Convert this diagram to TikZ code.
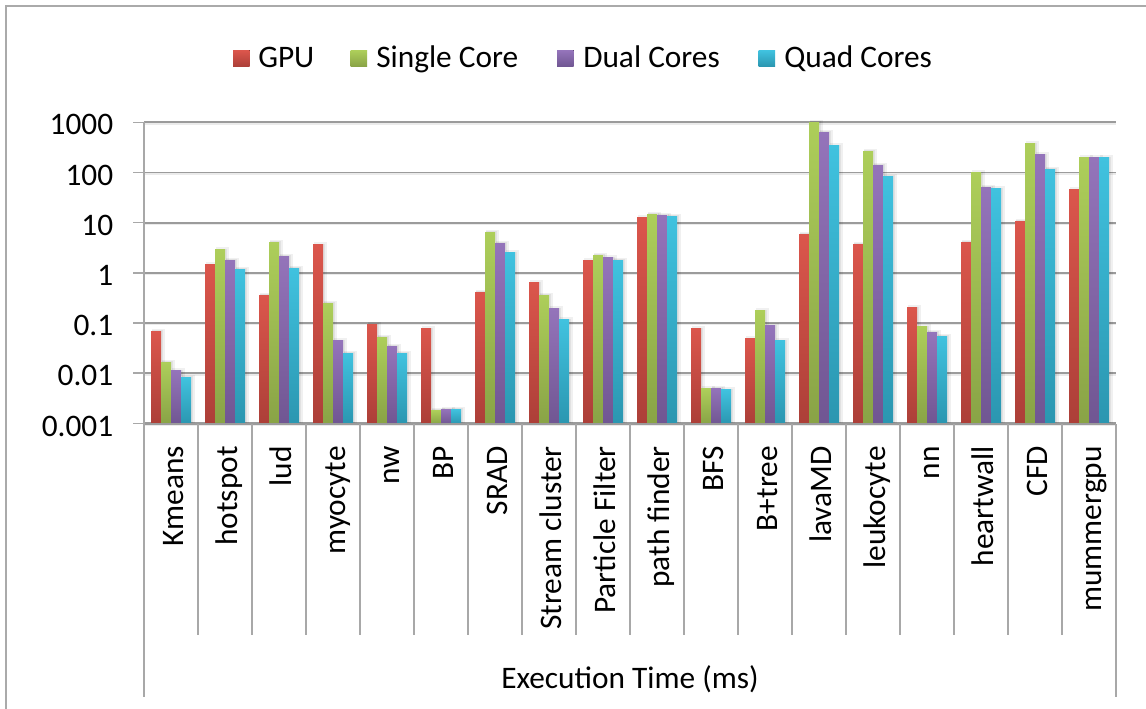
\documentclass[tikz,border=0pt]{standalone}
\usepackage{fontspec}
\setmainfont{Carlito}
\definecolor{gpuT}{RGB}{219,86,76}
\definecolor{gpuB}{RGB}{172,63,56}
\definecolor{sglT}{RGB}{173,206,90}
\definecolor{sglB}{RGB}{137,163,70}
\definecolor{dualT}{RGB}{148,116,186}
\definecolor{dualB}{RGB}{112,86,146}
\definecolor{quadT}{RGB}{64,194,223}
\definecolor{quadB}{RGB}{43,150,176}
\definecolor{gridgray}{RGB}{155,155,155}
\definecolor{axisgray}{RGB}{168,168,168}
\definecolor{framegray}{RGB}{170,170,170}
\tikzset{
  gridline/.style={draw=gridgray, line width=1.3pt},
  gridshade/.style={draw=black, opacity=0.08, line width=1.2pt},
  sepline/.style={draw=axisgray, line width=1.1pt},
  lbl/.style={font=\fontsize{23.5}{28}\selectfont, inner sep=0pt, text=black},
  catlbl/.style={lbl, rotate=90, anchor=base east},
  barshadow/.style={fill=black, opacity=0.06},
}
\begin{document}
\begin{tikzpicture}[x=0.75pt, y=-0.75pt]
\useasboundingbox (0,0) rectangle (1146,709);
\fill[white] (0,0) rectangle (1146,709);
% chart frame
\draw[framegray, line width=1pt] (6,6) rectangle (1170,730);

% gridlines and y labels
\foreach \lab [count=\k from 0] in {1000,100,10,1,0.1,0.01,0.001}{
  \pgfmathsetmacro\gy{122.3+\k*50.17}
  \draw[gridshade] (144,\gy+1.6) -- (1116,\gy+1.6);
  \draw[gridline] (144,\gy) -- (1116,\gy);
  \draw[sepline] (133,\gy) -- (144,\gy);
  \node[lbl, anchor=base east] (ylab\k) at (113.5,\gy+12.7) {\lab};
}

% bars
\foreach \cat/\a/\b/\c/\d [count=\i from 0] in {
  Kmeans/0.066/0.016/0.011/0.008,
  hotspot/1.45/2.85/1.8/1.19,
  lud/0.36/4.1/2.16/1.24,
  myocyte/3.6/0.25/0.044/0.025,
  nw/0.095/0.052/0.033/0.025,
  BP/0.076/0.0018/0.0019/0.0019,
  SRAD/0.41/6.5/3.9/2.5,
  Stream cluster/0.63/0.35/0.19/0.115,
  Particle Filter/1.74/2.2/2.0/1.8,
  path finder/12.5/14.5/13.8/13.2,
  BFS/0.076/0.0048/0.005/0.0046,
  B+tree/0.048/0.174/0.087/0.044,
  lavaMD/5.9/1000/640/340,
  leukocyte/3.7/266/140/84,
  nn/0.2/0.083/0.063/0.055,
  heartwall/4.1/98/51/47,
  CFD/10.7/370/224/117,
  mummergpu/45/195/195/195}{
  \pgfmathsetmacro\cx{144+\i*54}
  \foreach \v/\s [count=\j from 0] in {\a/gpu,\b/sgl,\c/dual,\d/quad}{
    \pgfmathsetmacro\yt{122.3+(3-log10(\v))*50.17}
    \pgfmathsetmacro\xa{\cx+7+\j*10}
    \pgfmathsetmacro\xb{\xa+10}
    \fill[barshadow] (\xa+1,\yt-2.5) rectangle (\xb+4,424);
    \fill[barshadow] (\xa+0.5,\yt-1.2) rectangle (\xb+2,424);
    \fill[top color=\s T, bottom color=\s B] (\xa,\yt) rectangle (\xb,424);
  }
  \node[catlbl] (cat\i) at (\cx+27+12.5,446) {\cat};
}

% axes and category separators
\draw[gridline] (144,424) -- (1116,424);
\draw[sepline] (144,122.3) -- (144,697);
\draw[sepline] (1116,424) -- (1116,697);
\foreach \i in {1,...,17}{
  \draw[sepline] (144+\i*54,424) -- (144+\i*54,635);
}

% axis title
\node[lbl, anchor=base] (xtitle) at (630,688) {Execution Time (ms)};

% legend
\foreach \s/\x/\t/\tx in {gpu/233/GPU/258, sgl/350.5/Single Core/376, dual/557/Dual Cores/583, quad/758.5/Quad Cores/784}{
  \fill[top color=\s T, bottom color=\s B] (\x,50.5) rectangle (\x+16.5,66.5);
  \node[lbl, anchor=base west] (leg\s) at (\tx,67.5) {\t};
}
\end{tikzpicture}
\end{document}
